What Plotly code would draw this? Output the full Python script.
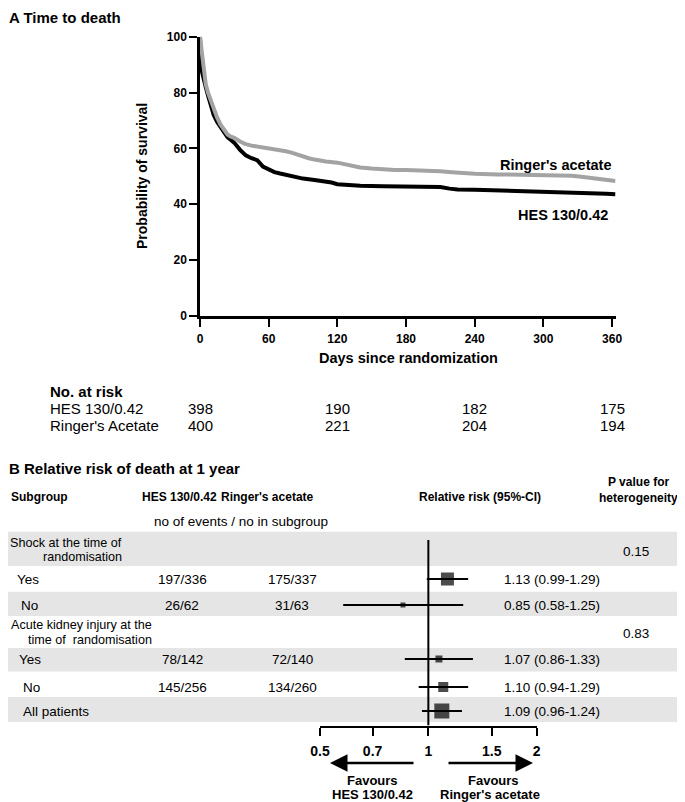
import plotly.graph_objects as go
import math

# ---------------- data ----------------
# Kaplan-Meier curves (days since randomization, probability of survival %)
hes_days = [0, 0.3, 1, 2, 3, 5, 7, 10, 12, 15, 18, 21, 24, 27, 30, 35, 40, 45, 50, 55, 60, 65, 70, 75,
            80, 85, 90, 100, 110, 115, 120, 130, 140, 160, 180, 200, 210, 218, 225, 240, 260, 280,
            300, 320, 340, 355, 363]
hes_surv = [100, 92, 89, 87, 85, 82, 79, 75, 72, 69.5, 67.5, 65.5, 64, 63, 62, 59.5, 57.5, 56.5, 55.8,
            53.5, 52.3, 51.5, 51, 50.5, 50.2, 49.5, 49.2, 48.7, 48.3, 47.8, 47.2, 46.8, 46.6, 46.5,
            46.5, 46.4, 46.2, 45.6, 45.3, 45.2, 45.0, 44.8, 44.5, 44.3, 44.2, 43.8, 43.6]
ringer_days = [0, 1, 2, 3, 5, 7, 10, 12, 15, 18, 21, 24, 27, 30, 35, 40, 45, 50, 55, 60, 65, 70, 75, 80,
               85, 90, 95, 100, 105, 110, 120, 125, 130, 135, 140, 150, 160, 170, 180, 190, 200, 210,
               220, 230, 240, 260, 280, 300, 315, 325, 335, 345, 355, 363]
ringer_surv = [100, 96, 92, 88, 83, 80, 76.5, 73.5, 71, 68.5, 66.5, 65, 64.2, 63.8, 62.5, 61.5, 61, 60.7,
               60.3, 60.2, 59.8, 59.5, 59, 58.5, 57.8, 57, 56.5, 56, 55.6, 55.3, 54.9, 54.5, 54, 53.6,
               53.2, 52.8, 52.4, 52.3, 52.3, 52.2, 52, 51.8, 51.5, 51.2, 50.9, 50.7, 50.6, 50.6, 50.5,
               50.2, 49.8, 49.2, 48.7, 48.3]
km_xticks = [0, 60, 120, 180, 240, 300, 360]
km_yticks = [0, 20, 40, 60, 80, 100]

# Numbers at risk
risk_days = [0, 120, 240, 360]
risk_hes = [398, 190, 182, 175]
risk_ringer = [400, 221, 204, 194]

# Forest plot (relative risk of death at 1 year)
fp_labels = ["Yes", "No", "Yes", "No", "All patients"]
fp_hes_events = [197, 26, 78, 145, None]
fp_hes_n = [336, 62, 142, 256, None]
fp_ringer_events = [175, 31, 72, 134, None]
fp_ringer_n = [337, 63, 140, 260, None]
fp_rr = [1.13, 0.85, 1.07, 1.10, 1.09]
fp_lo = [0.99, 0.58, 0.86, 0.94, 0.96]
fp_hi = [1.29, 1.25, 1.33, 1.29, 1.24]
group_titles = [["Shock at the time of", "randomisation"],
                ["Acute kidney injury at the", "time of  randomisation"]]
group_p = ["0.15", "0.83"]
rr_ticks = [0.5, 0.7, 1, 1.5, 2]
rr_ticktext = ["0.5", "0.7", "1", "1.5", "2"]
rr_reference = 1

# ---------------- layout helpers (screen pixel positions) ----------------
PAGE_W, PAGE_H = 685, 802
OFF = 8  # the page body margin shifts the figure by this much
W, H = PAGE_W - OFF, PAGE_H - OFF
FONT = "Arial, Liberation Sans, sans-serif"


def px(x):
    return (x - OFF) / W


def py(y):
    return 1 - (y - OFF) / H


annotations = []


def ann(text, x, y, size, bold=False, xanchor="left", yanchor="middle", xref="paper", yref="paper",
        color="black"):
    annotations.append(dict(
        text=text, x=x, y=y, xref=xref, yref=yref, xanchor=xanchor, yanchor=yanchor,
        showarrow=False, borderpad=0,
        font=dict(family=FONT, size=size, color=color, weight="bold" if bold else "normal")))


# forest layout: y positions (pixels) of each effect row, group headers and bands
row_y = [579, 605, 659, 687, 711]
group_y = [(543, 557, 551), (625, 640, 633)]
group_right = [123, 153]
label_x = [16, 20, 18, 22, 22]
bands = [(531.7, 566), (591.7, 616), (648, 671.5), (697, 722)]
sq_sizes = [13, 5, 7, 10, 15]
FOREST_TOP, FOREST_BOTTOM = 531.7, 725.5

fig = go.Figure()

# ---------------- Panel A: KM curves ----------------
fig.add_trace(go.Scatter(x=hes_days, y=hes_surv, mode="lines", name="HES 130/0.42",
                         line=dict(color="black", width=4), xaxis="x", yaxis="y",
                         showlegend=False, hoverinfo="skip"))
fig.add_trace(go.Scatter(x=ringer_days, y=ringer_surv, mode="lines", name="Ringer's acetate",
                         line=dict(color="#a3a3a3", width=4), xaxis="x", yaxis="y",
                         showlegend=False, hoverinfo="skip"))

ann("A Time to death", px(OFF), py(17), 15, bold=True)
ann("Ringer's acetate", 360, 54.2, 14.5, bold=True, xanchor="right", xref="x", yref="y")
ann("HES 130/0.42", 357, 36.3, 14.5, bold=True, xanchor="right", xref="x", yref="y")
annotations.append(dict(text="Probability of survival", x=px(142), y=py(176), xref="paper",
                        yref="paper", textangle=-90, showarrow=False, xanchor="center",
                        yanchor="middle", font=dict(family=FONT, size=14, weight="bold")))
ann("Days since randomization", px(408), py(358), 14.5, bold=True, xanchor="center")

# Numbers at risk
ann("No. at risk", px(49), py(391), 15, bold=True)
ann("HES 130/0.42", px(49), py(408), 15)
ann("Ringer's Acetate", px(49), py(425), 15)
for d, a, b in zip(risk_days, risk_hes, risk_ringer):
    ann(str(a), d, py(408), 15, xanchor="center", xref="x")
    ann(str(b), d, py(425), 15, xanchor="center", xref="x")

# ---------------- Panel B: forest plot ----------------
ann("B Relative risk of death at 1 year", px(OFF), py(468), 15, bold=True)
ann("Subgroup", px(10), py(497), 12, bold=True)
ann("HES 130/0.42", px(141), py(497), 12, bold=True)
ann("Ringer's acetate", px(220), py(497), 12, bold=True)
ann("Relative risk (95%-CI)", px(418), py(497), 12, bold=True)
ann("P value for", px(638), py(482), 12, bold=True, xanchor="center")
ann("heterogeneity", px(638), py(498), 12, bold=True, xanchor="center")
ann("no of events / no in subgroup", px(241), py(521), 13.5, xanchor="center")

shapes = []
for (y0, y1) in bands:
    shapes.append(dict(type="rect", xref="paper", yref="paper", x0=0, x1=px(680),
                       y0=py(y1), y1=py(y0), fillcolor="#e5e5e5", line=dict(width=0),
                       layer="below"))

for (t, p, (y1, y2, yp), xr) in zip(group_titles, group_p, group_y, group_right):
    ann(t[0], px(xr), py(y1), 12.6, xanchor="right")
    ann(t[1], px(xr), py(y2), 12.6, xanchor="right")
    ann(p, px(636), py(yp), 13.5, xanchor="center")

for i, lab in enumerate(fp_labels):
    ann(lab, px(label_x[i]), py(row_y[i]), 13.5)
    if fp_hes_events[i] is not None:
        ann(f"{fp_hes_events[i]}/{fp_hes_n[i]}", px(182), py(row_y[i]), 13.5, xanchor="center")
        ann(f"{fp_ringer_events[i]}/{fp_ringer_n[i]}", px(292), py(row_y[i]), 13.5,
            xanchor="center")
    ann(f"{fp_rr[i]:.2f} ({fp_lo[i]:.2f}-{fp_hi[i]:.2f})", px(503), py(row_y[i]), 13.5)

# reference line at RR = 1
fig.add_trace(go.Scatter(x=[rr_reference, rr_reference], y=[540, FOREST_BOTTOM], mode="lines",
                         line=dict(color="black", width=2), xaxis="x2", yaxis="y2",
                         showlegend=False, hoverinfo="skip"))
# confidence intervals
ci_x, ci_y = [], []
for lo, hi, y in zip(fp_lo, fp_hi, row_y):
    ci_x += [lo, hi, None]
    ci_y += [y, y, None]
fig.add_trace(go.Scatter(x=ci_x, y=ci_y, mode="lines", line=dict(color="black", width=2),
                         xaxis="x2", yaxis="y2", showlegend=False, hoverinfo="skip"))
fig.add_trace(go.Scatter(x=fp_rr, y=row_y, mode="markers",
                         marker=dict(symbol="square", size=sq_sizes, color="black",
                                     line=dict(width=0)),
                         xaxis="x2", yaxis="y2", showlegend=False, hoverinfo="skip"))

# arrows and favours text
annotations.append(dict(x=px(330), y=py(763), xref="paper", yref="paper", ax=85, ay=0,
                        axref="pixel", ayref="pixel", text="", showarrow=True, arrowhead=2,
                        arrowsize=1.4, arrowwidth=2.5, arrowcolor="black"))
annotations.append(dict(x=px(533), y=py(763), xref="paper", yref="paper", ax=-86, ay=0,
                        axref="pixel", ayref="pixel", text="", showarrow=True, arrowhead=2,
                        arrowsize=1.4, arrowwidth=2.5, arrowcolor="black"))
ann("Favours", px(372), py(780), 13, bold=True, xanchor="center")
ann("HES 130/0.42", px(372), py(794), 13, bold=True, xanchor="center")
ann("Favours", px(493), py(780), 13, bold=True, xanchor="center")
ann("Ringer's acetate", px(490), py(794), 13, bold=True, xanchor="center")

axis_common = dict(showline=True, linecolor="black", ticks="outside", ticklen=8, tickwidth=2,
                   tickcolor="black", showgrid=False, zeroline=False, automargin=False)

fig.update_layout(
    template="none",
    width=W, height=H, autosize=False,
    margin=dict(l=0, r=0, t=0, b=0, pad=0, autoexpand=False),
    paper_bgcolor="white", plot_bgcolor="rgba(0,0,0,0)",
    showlegend=False,
    font=dict(family=FONT, color="black"),
    xaxis=dict(domain=[px(200), px(615.5)], range=[0, 363], tickvals=km_xticks, anchor="y",
               linewidth=2.5, tickfont=dict(size=12, weight="bold"), ticklabelstandoff=2,
               **axis_common),
    yaxis=dict(domain=[py(316), py(36.7)], range=[0, 100], tickvals=km_yticks, anchor="x",
               linewidth=2.5, tickfont=dict(size=12, weight="bold"), **axis_common),
    xaxis2=dict(type="log", domain=[px(320), px(536.7)],
                range=[math.log10(0.5), math.log10(2)], tickvals=rr_ticks,
                ticktext=rr_ticktext, anchor="y2", linewidth=2,
                tickfont=dict(size=14, weight="bold"), ticklabelstandoff=4, **axis_common),
    yaxis2=dict(domain=[py(FOREST_BOTTOM), py(FOREST_TOP)],
                range=[FOREST_BOTTOM, FOREST_TOP], anchor="x2", visible=False,
                automargin=False),
    annotations=annotations,
    shapes=shapes,
)

fig.write_html("out.html")
